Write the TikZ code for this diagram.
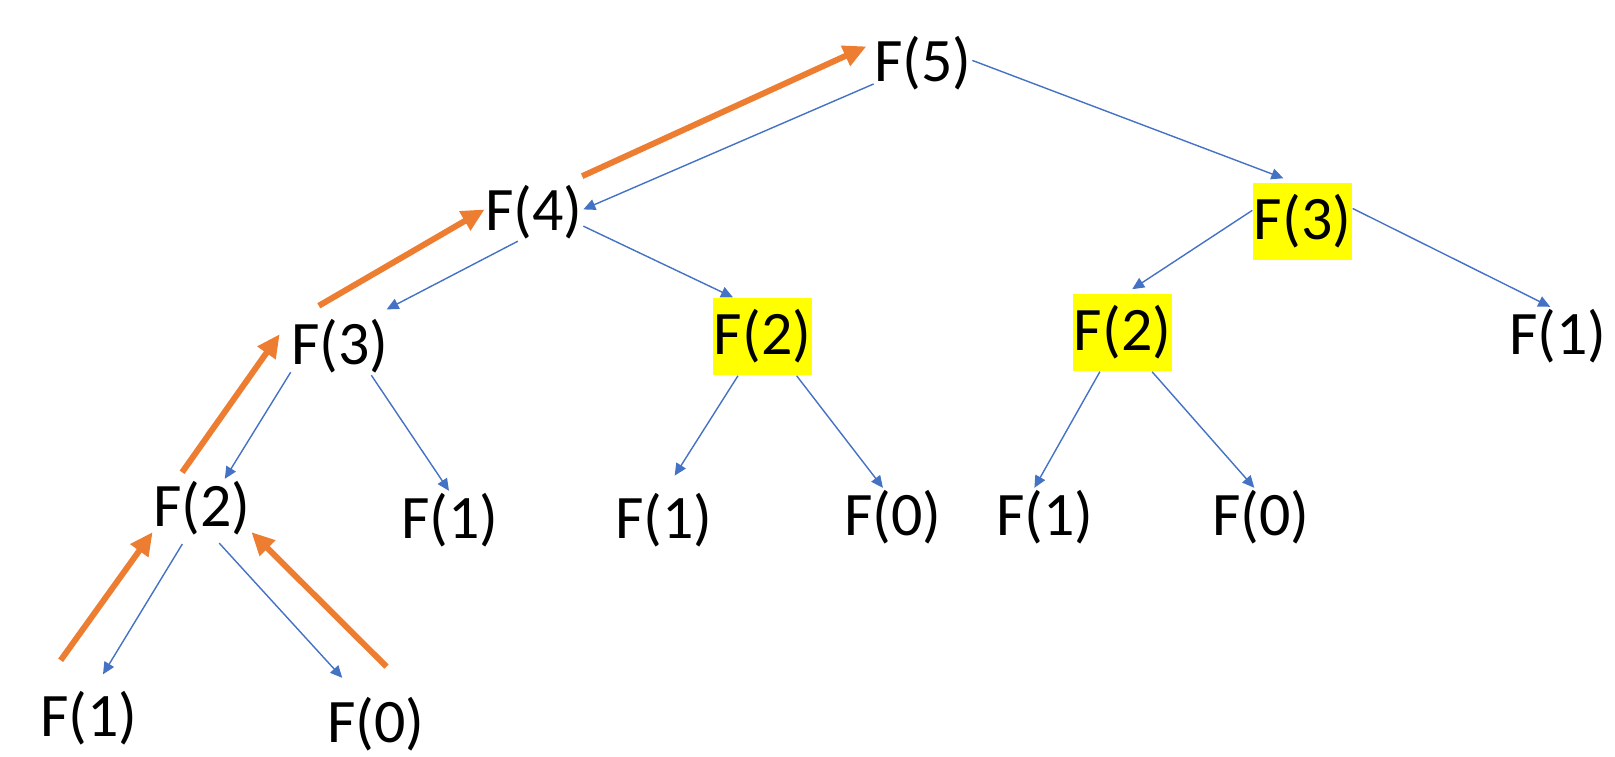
\documentclass[tikz,border=0pt]{standalone}
\usepackage{fontspec}
\setmainfont{Carlito}
\definecolor{callblue}{RGB}{68, 114, 196}
\definecolor{retorange}{RGB}{237, 125, 49}
\definecolor{memoyellow}{RGB}{255, 255, 0}
\usetikzlibrary{arrows.meta, positioning}

\begin{document}
\begin{tikzpicture}[
  fnode/.style={inner sep=0pt, minimum width=0.94cm, minimum height=0.57cm, font=\fontsize{17.6}{20}\selectfont},
  memo/.style={fnode, fill=memoyellow, minimum width=0.99cm, minimum height=0.77cm},
  call/.style={-{Triangle[length=1.2mm, width=1.1mm]}, callblue, line width=0.4pt},
  ret/.style={-{Triangle[length=2.3mm, width=2.1mm]}, retorange, line width=1.7pt}
]
  \useasboundingbox (0,0) rectangle (16.15,-7.56);

  % Call tree
  \node[fnode] (f5) at (9.23,-0.63) {F(5)};
  \node[fnode] (f4) at (5.34,-2.12) {F(4)};
  \node[memo] (f3b) at (13.025,-2.21) {F(3)};
  \node[fnode] (f3a) at (3.40,-3.46) {F(3)};
  \node[memo] (f2b) at (7.625,-3.365) {F(2)};
  \node[memo] (f2c) at (11.225,-3.325) {F(2)};
  \node[fnode] (f1d) at (15.58,-3.36) {F(1)};
  \node[fnode] (f2a) at (2.02,-5.08) {F(2)};
  \node[fnode] (f1b) at (4.50,-5.20) {F(1)};
  \node[fnode] (f1c) at (6.64,-5.20) {F(1)};
  \node[fnode] (f0c) at (8.93,-5.17) {F(0)};
  \node[fnode] (f1e) at (10.45,-5.17) {F(1)};
  \node[fnode] (f0e) at (12.61,-5.17) {F(0)};
  \node[fnode] (f1a) at (0.89,-7.18) {F(1)};
  \node[fnode] (f0a) at (3.76,-7.24) {F(0)};

  % Calls
  \draw[call] (f5.203) -- (f4.3);
  \draw[call, shorten >=1mm] (f5.3) -- (f3b.104);
  \draw[call, shorten >=1.6mm] (f4.241) -- (f3a.42);
  \draw[call] (f4.344) -- (f2b.127);
  \draw[call, shorten >=0.75mm] (f3b.168) -- (f2c.85);
  \draw[call] (f3b.14) -- (f1d.105);
  \draw[call] (f3a.208) -- (f2a.52);
  \draw[call] (f3a.317) -- (f1b.92);
  \draw[call, shorten <=0.8mm, shorten >=1.7mm] (f2a.242) -- (f1a.80);
  \draw[call, shorten <=0.8mm, shorten >=2.3mm] (f2a.292) -- (f0a.122);
  \draw[call, shorten >=1.8mm] (f2b.238) -- (f1c.88);
  \draw[call] (f2b.311) -- (f0c.109);
  \draw[call] (f2c.240) -- (f1e.110);
  \draw[call] (f2c.307) -- (f0e.103);

  % Returns
  \draw[ret, shorten <=3.6mm] (f1a.150) -- (f2a.206);
  \draw[ret, shorten <=4mm] (f0a.37) -- (f2a.334);
  \draw[ret, shorten <=0.8mm, shorten >=1.9mm] (f2a.130) -- (f3a.151);
  \draw[ret, shorten <=2.2mm] (f3a.144) -- (f4.177);
  \draw[ret, shorten <=1.6mm, shorten >=0.8mm] (f4.41) -- (f5.158);
\end{tikzpicture}
\end{document}
